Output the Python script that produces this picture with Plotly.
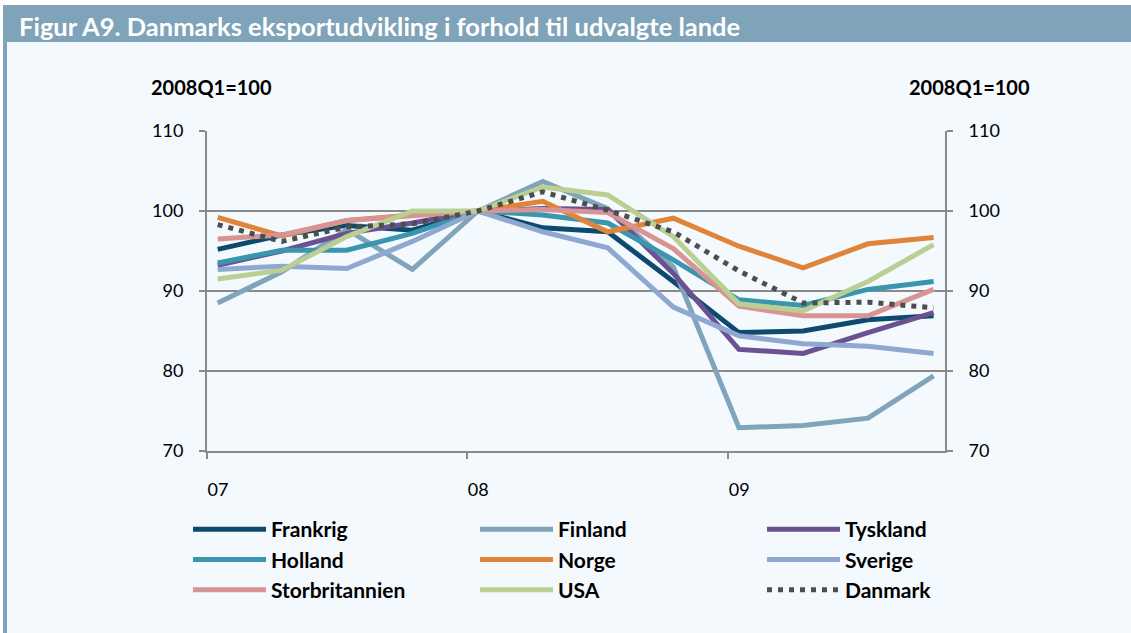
import plotly.graph_objects as go
import pandas as pd

quarters = ["2007Q1", "2007Q2", "2007Q3", "2007Q4",
            "2008Q1", "2008Q2", "2008Q3", "2008Q4",
            "2009Q1", "2009Q2", "2009Q3", "2009Q4"]

frankrig = [95.2, 97.0, 98.2, 97.6, 100.0, 97.9, 97.4, 91.2, 84.8, 85.0, 86.4, 86.9]
finland = [88.5, 92.4, 97.7, 92.7, 100.0, 103.7, 100.3, 93.0, 72.9, 73.2, 74.1, 79.4]
tyskland = [93.2, 95.0, 97.2, 98.5, 100.0, 100.3, 100.2, 92.2, 82.7, 82.2, 84.8, 87.3]
holland = [93.5, 95.1, 95.1, 97.2, 100.0, 99.5, 98.5, 93.9, 88.9, 88.2, 90.2, 91.2]
norge = [99.2, 96.9, 98.8, 99.5, 100.0, 101.2, 97.4, 99.1, 95.6, 92.9, 95.9, 96.7]
sverige = [92.7, 93.1, 92.8, 96.2, 100.0, 97.4, 95.4, 88.0, 84.4, 83.4, 83.1, 82.2]
storbritannien = [96.5, 97.0, 98.8, 99.4, 100.0, 100.2, 99.8, 95.3, 88.1, 86.9, 86.9, 90.2]
usa = [91.5, 92.6, 96.8, 100.0, 100.0, 103.0, 102.0, 96.8, 88.4, 87.5, 91.2, 95.8]
danmark = [98.3, 96.2, 98.0, 98.4, 100.0, 102.4, 100.1, 97.4, 92.5, 88.5, 88.6, 87.9]

year_ticks = ["2007-01-01", "2008-01-01", "2009-01-01"]
year_labels = ["07", "08", "09"]

title_text = "Figur A9. Danmarks eksportudvikling i forhold til udvalgte lande"
axis_note = "2008Q1=100"

series = [
    ("Frankrig", frankrig, "#0e4a6f", "solid"),
    ("Finland", finland, "#80a4b9", "solid"),
    ("Tyskland", tyskland, "#6b5192", "solid"),
    ("Holland", holland, "#3a96ad", "solid"),
    ("Norge", norge, "#e0843a", "solid"),
    ("Sverige", sverige, "#8fa8d1", "solid"),
    ("Storbritannien", storbritannien, "#d89494", "solid"),
    ("USA", usa, "#b9cf94", "solid"),
    ("Danmark", danmark, "#4d4d4d", "dot"),
]

# mid-month position of each quarter's first month
x = [pd.Period(q, freq="Q").start_time + pd.Timedelta(days=15) for q in quarters]

W, H = 1131, 633
L, R, T, B = 207, 186, 131, 182
PW, PH = W - L - R, H - T - B


def px_x(p):
    return (p - L) / PW


def px_y(p):
    return (H - B - p) / PH


BAR = "#7fa3b8"
BG = "#f4f9fe"
FONT = "Lato"

fig = go.Figure()
for name, vals, color, dash in series:
    line = dict(color=color, width=5)
    if dash == "dot":
        line = dict(color=color, width=5, dash="5px,6px")
    fig.add_trace(go.Scatter(x=x, y=vals, name=name, mode="lines", line=line))

fig.add_trace(go.Scatter(x=x, y=danmark, yaxis="y2", mode="lines",
                         line=dict(width=0), showlegend=False, hoverinfo="skip",
                         opacity=0))

shapes = [
    dict(type="rect", xref="paper", yref="paper", x0=px_x(0), x1=px_x(W),
         y0=px_y(0), y1=px_y(5), fillcolor="white", line=dict(width=0), layer="below"),
    dict(type="rect", xref="paper", yref="paper", x0=px_x(0), x1=px_x(3),
         y0=px_y(0), y1=px_y(H), fillcolor="white", line=dict(width=0), layer="below"),
    dict(type="rect", xref="paper", yref="paper", x0=px_x(3), x1=px_x(W),
         y0=px_y(5), y1=px_y(42), fillcolor=BAR, line=dict(width=0), layer="below"),
    dict(type="rect", xref="paper", yref="paper", x0=px_x(3), x1=px_x(7),
         y0=px_y(42), y1=px_y(H), fillcolor=BAR, line=dict(width=0), layer="below"),
]

annotations = [
    dict(text=f"<b>{title_text}</b>", xref="paper", yref="paper", x=px_x(17), y=px_y(26),
         xanchor="left", yanchor="middle", showarrow=False,
         font=dict(family=FONT, size=25.5, color="white")),
    dict(text=f"<b>{axis_note}</b>", xref="paper", yref="paper", x=px_x(211), y=px_y(87),
         xanchor="center", yanchor="middle", showarrow=False,
         font=dict(family=FONT, size=20, color="black")),
    dict(text=f"<b>{axis_note}</b>", xref="paper", yref="paper", x=px_x(970), y=px_y(87),
         xanchor="center", yanchor="middle", showarrow=False,
         font=dict(family=FONT, size=20, color="black")),
]

AX = "#8a8a8a"
fig.update_layout(
    width=W, height=H,
    margin=dict(l=L, r=R, t=T, b=B, pad=0),
    paper_bgcolor=BG, plot_bgcolor=BG,
    font=dict(family=FONT, size=18, color="black"),
    shapes=shapes, annotations=annotations,
    xaxis=dict(type="date", range=["2007-01-01", "2009-11-01"],
               tickvals=year_ticks, ticktext=year_labels,
               showgrid=False, zeroline=False, showline=True, linecolor=AX, linewidth=2,
               ticks="outside", ticklen=6, tickwidth=2, tickcolor=AX,
               ticklabelshift=11, ticklabelstandoff=15,
               tickfont=dict(family=FONT, size=18)),
    yaxis=dict(range=[70, 110], dtick=10, showgrid=True, gridcolor=AX, gridwidth=2,
               zeroline=False, showline=True, linecolor=AX, linewidth=2,
               ticks="outside", ticklen=6, tickwidth=2, tickcolor=AX,
               ticklabelstandoff=12, tickfont=dict(family=FONT, size=18)),
    yaxis2=dict(range=[70, 110], dtick=10, overlaying="y", side="right",
                showgrid=False, zeroline=False, showline=True, linecolor=AX, linewidth=2,
                ticks="outside", ticklen=6, tickwidth=2, tickcolor=AX,
                ticklabelstandoff=12, tickfont=dict(family=FONT, size=18)),
    legend=dict(orientation="h", x=px_x(188), xanchor="left", y=px_y(509), yanchor="top",
                bgcolor="rgba(0,0,0,0)", itemwidth=73, entrywidth=199,
                font=dict(family=FONT, size=21, weight="bold", color="black"),
                traceorder="normal"),
    showlegend=True,
)

fig.write_html("out.html", config={"displayModeBar": False},
               post_script="document.body.style.margin='0';")
